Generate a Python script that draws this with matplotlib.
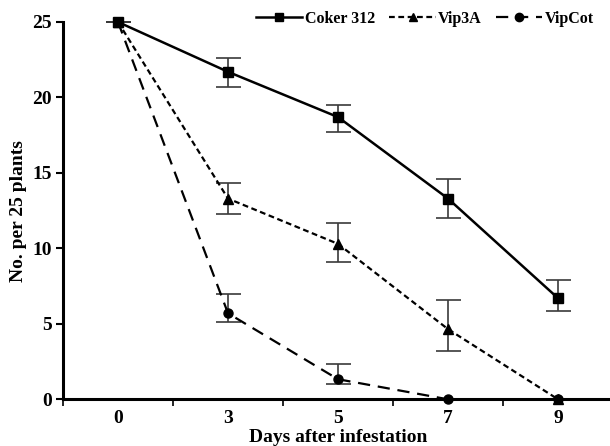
import matplotlib
matplotlib.use("Agg")
import matplotlib.pyplot as plt
from matplotlib.lines import Line2D

days = ["0", "3", "5", "7", "9"]
coker = [25, 21.7, 18.7, 13.3, 6.7]
coker_lo = [0, 1.0, 1.0, 1.27, 0.82]
coker_hi = [0, 0.9, 0.8, 1.27, 1.2]
vip3a = [25, 13.3, 10.3, 4.65, 0]
vip3a_lo = [0, 1.05, 1.2, 1.42, 0]
vip3a_hi = [0, 1.0, 1.38, 1.9, 0]
vipcot = [25, 5.7, 1.33, 0, 0]
vipcot_lo = [0, 0.6, 0.3, 0, 0]
vipcot_hi = [0, 1.28, 1.03, 0, 0]
series_names = ["Coker 312", "Vip3A", "VipCot"]

plt.rcParams['font.family'] = ['Liberation Serif', 'DejaVu Serif']
plt.rcParams['font.weight'] = 'bold'

fig = plt.figure(figsize=(6.1, 4.46), dpi=100)
ax = fig.add_axes([63/610, (446-399.3)/446, 550/610, (399.3-22)/446])

x = list(range(len(days)))
ebc = '#3a3a3a'
ekw = dict(ecolor=ebc, elinewidth=1.2, capsize=9, capthick=1.2)

styles = [
    dict(marker='s', ls='-', lw=1.8),
    dict(marker='^', ls=(0, (2.6, 1.6)), lw=1.6),
    dict(marker='o', ls=(0, (5.5, 3.5)), lw=1.6),
]
data = [(coker, coker_lo, coker_hi), (vip3a, vip3a_lo, vip3a_hi), (vipcot, vipcot_lo, vipcot_hi)]
handles = []
for (y, lo, hi), st, name in zip(data, styles, series_names):
    c = ax.errorbar(x, y, yerr=[lo, hi], color='black', ms=6.5, clip_on=False, **st, **ekw)
    for b in list(c[1]) + list(c[2]):
        b.set_clip_on(False)
    handles.append(Line2D([], [], color='black', ms=6, label=name, **st))

ax.set_xlim(-0.5, 4.5)
ax.set_ylim(0, 25)
ax.set_yticks([0, 5, 10, 15, 20, 25])
ax.set_xticks(x)
ax.set_xticklabels(days)
ax.set_xticks([i + 0.5 for i in range(-1, 5)], minor=True)
ax.tick_params(axis='x', which='major', length=0, labelsize=14, pad=8)
ax.tick_params(axis='x', which='minor', length=5, width=1.2, direction='out')
ax.tick_params(axis='y', length=5, width=1.5, direction='out', labelsize=14, pad=3)
for s in ('top', 'right'):
    ax.spines[s].set_visible(False)
for s in ('left', 'bottom'):
    ax.spines[s].set_linewidth(2.2)

ax.set_xlabel('Days after infestation', fontsize=14, fontweight='bold', labelpad=1)
ax.set_ylabel('No. per 25 plants', fontsize=14, fontweight='bold', labelpad=4)

leg = fig.legend(handles=handles, loc='center right', ncol=3, frameon=False,
                 bbox_to_anchor=(594/610, 1 - 19/446), fontsize=11.5, handlelength=2.9,
                 columnspacing=0.9, handletextpad=0.15, borderaxespad=0, borderpad=0)

fig.savefig('out.png', dpi=100)
